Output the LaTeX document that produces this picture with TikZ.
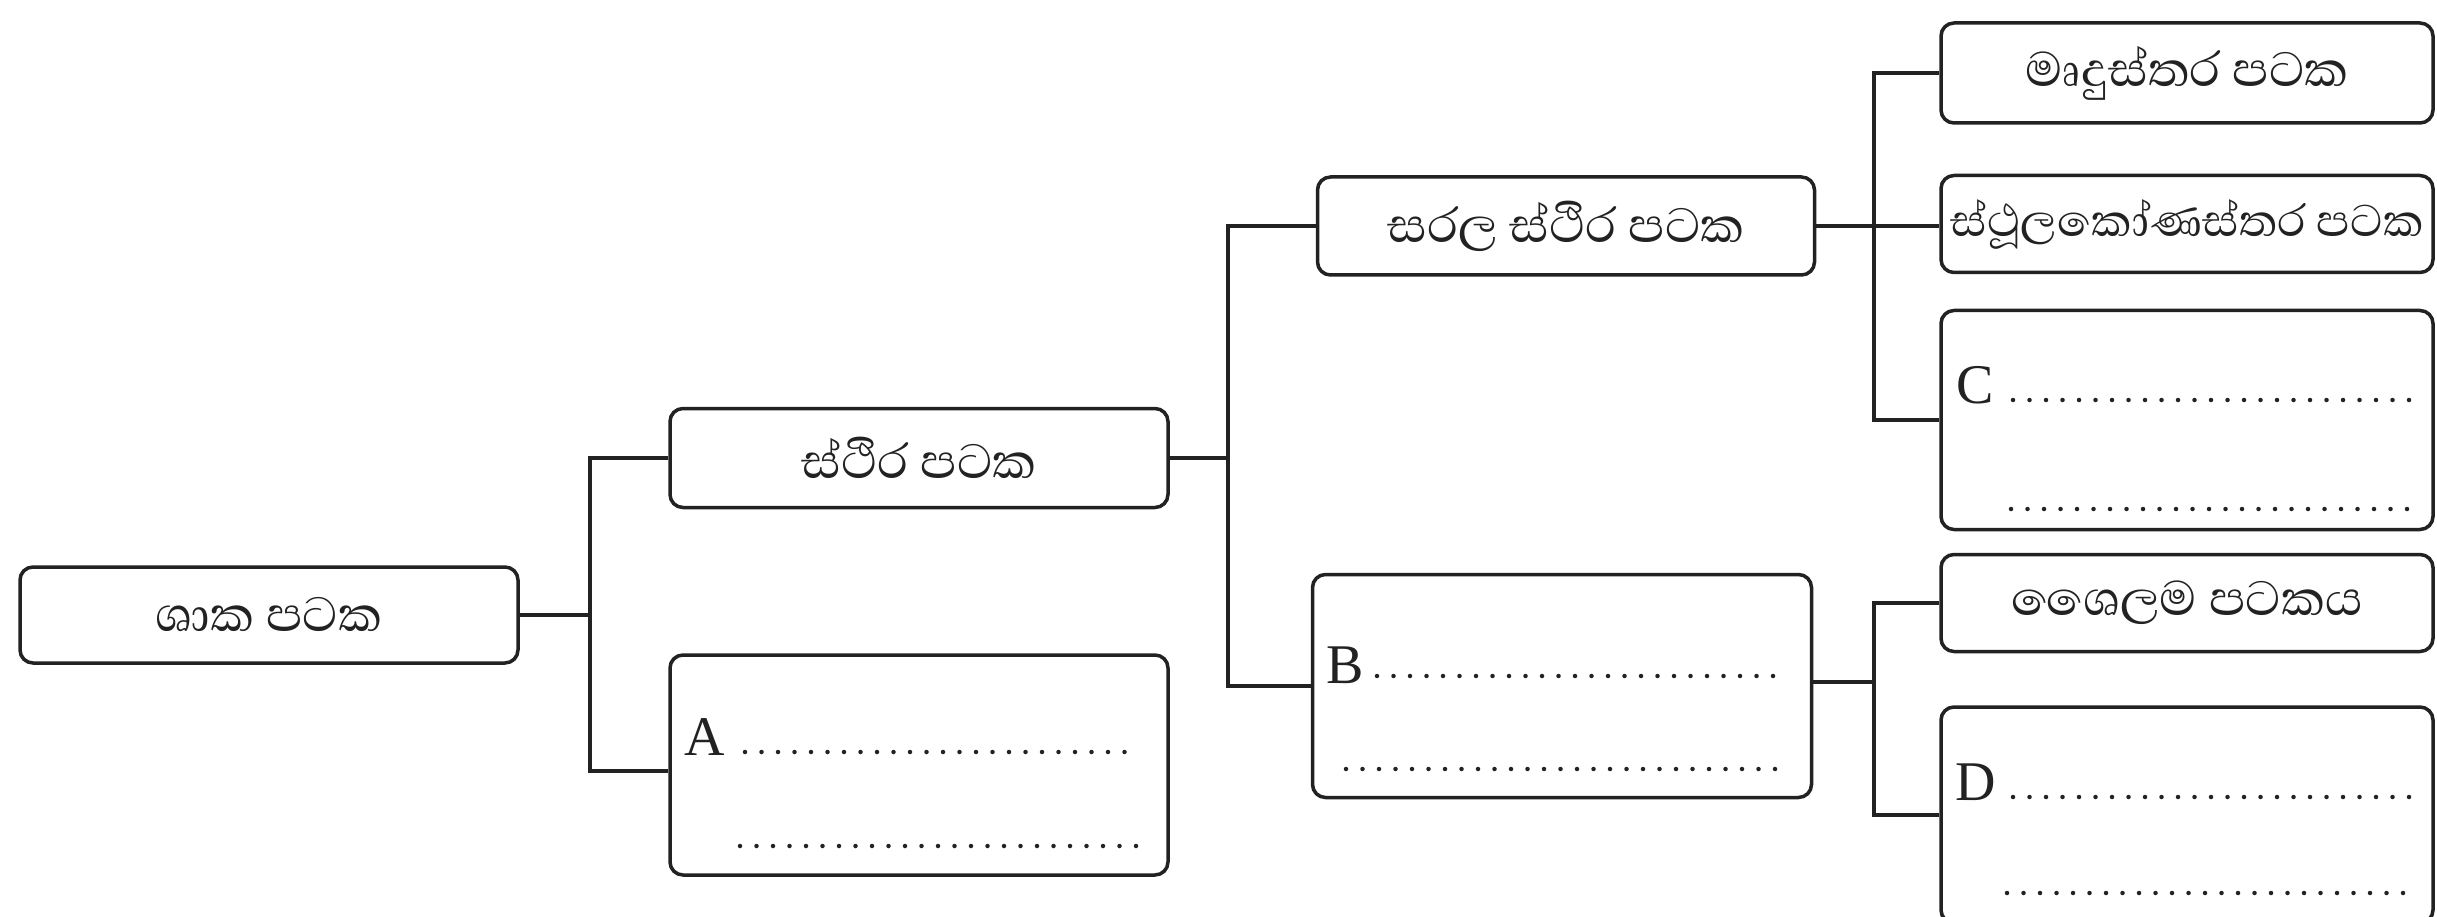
\documentclass[tikz,border=0pt]{standalone}
\usepackage{fontspec}
\setmainfont{Liberation Serif}
\newfontfamily\sinfont[Script=Sinhala]{Abhaya Libre}
\definecolor{ink}{HTML}{222222}
\begin{document}
\begin{tikzpicture}[x=1pt,y=-1pt,
  box/.style={draw=ink, line width=3.5pt, rounded corners=13pt, inner sep=0pt, fill=white},
  sin/.style={font=\sinfont\fontsize{62}{66}\selectfont, text=ink},
  sinsmall/.style={font=\sinfont\fontsize{57}{61}\selectfont, text=ink},
  letter/.style={font=\fontsize{56}{60}\selectfont, text=ink, inner sep=0pt},
  link/.style={draw=ink, line width=3.5pt},
  dotrow/.style={draw=ink, line width=4.5pt, line cap=round, dash pattern=on 0pt off 16.5pt}
]
\useasboundingbox (0,0) rectangle (2437,917);
\clip (0,0) rectangle (2437,917);
\fill[white] (0,0) rectangle (2437,917);

% column 1
\node[box, minimum width=498pt, minimum height=96pt] (shaka) at (269,615) {};
\node[sin] (shakaT) at (shaka.center) {ශාක පටක};

% column 2
\node[box, minimum width=498pt, minimum height=99pt] (sthira) at (919,458) {};
\node[sin] (sthiraT) at (sthira.center) {ස්ථිර පටක};
\node[box, minimum width=498pt, minimum height=220pt] (A) at (919,765) {};

% column 3
\node[box, minimum width=497pt, minimum height=98pt] (sarala) at (1566,226) {};
\node[sin] (saralaT) at (sarala.center) {සරල ස්ථිර පටක};
\node[box, minimum width=499pt, minimum height=223pt] (B) at (1562,686) {};

% column 4
\node[box, minimum width=492pt, minimum height=100pt] (mrdu) at (2187,73) {};
\node[sin] (mrduT) at (mrdu.center) {මෘදුස්තර පටක};
\node[box, minimum width=492pt, minimum height=97pt] (sthula) at (2187,224) {};
\node[sinsmall] (sthulaT) at (sthula.center) {ස්ථූලකෝණස්තර පටක};
\node[box, minimum width=492pt, minimum height=219pt] (C) at (2187,420) {};
\node[box, minimum width=492pt, minimum height=97pt] (shaila) at (2187,603) {};
\node[sin] (shailaT) at (shaila.center) {ශෛලම පටකය};
\node[box, minimum width=492pt, minimum height=216pt] (D) at (2187,815) {};

% junction columns
\coordinate (v1) at (590,0);
\coordinate (v2) at (1228,0);
\coordinate (v3) at (1874,0);
\coordinate (Ain) at ([yshift=-6pt]A.west);
\coordinate (Bout) at ([yshift=4pt]B.east);

% connectors
\draw[link] (shaka.east) -- (shaka.east -| v1);
\draw[link] (sthira.west) -- (sthira.west -| v1) -- (Ain -| v1) -- (Ain);
\draw[link] (sthira.east) -- (sthira.east -| v2);
\draw[link] (sarala.west) -- (sarala.west -| v2) -- (B.west -| v2) -- (B.west);
\draw[link] (sarala.east) -- (sarala.east -| sthula.west);
\draw[link] (mrdu.west) -- (mrdu.west -| v3) -- (C.west -| v3) -- (C.west);
\draw[link] (Bout) -- (Bout -| v3);
\draw[link] (shaila.west) -- (shaila.west -| v3) -- (D.west -| v3) -- (D.west);

% blanks
\node[letter, anchor=base west] (Alab) at (684,755) {A};
\draw[dotrow] (745,752) -- (1139,752);
\draw[dotrow] (740,846) -- (1139,846);

\node[letter, anchor=base west] (Blab) at (1326,683) {B};
\draw[dotrow] (1377,676) -- (1780,676);
\draw[dotrow] (1346,769) -- (1780,769);

\node[letter, anchor=base west] (Clab) at (1956,403) {C};
\draw[dotrow] (2013,400) -- (2412,400);
\draw[dotrow] (2011,509) -- (2410,509);

\node[letter, anchor=base west] (Dlab) at (1955,800) {D};
\draw[dotrow] (2013,797) -- (2414,797);
\draw[dotrow] (2007,893) -- (2406,893);
\end{tikzpicture}
\end{document}
